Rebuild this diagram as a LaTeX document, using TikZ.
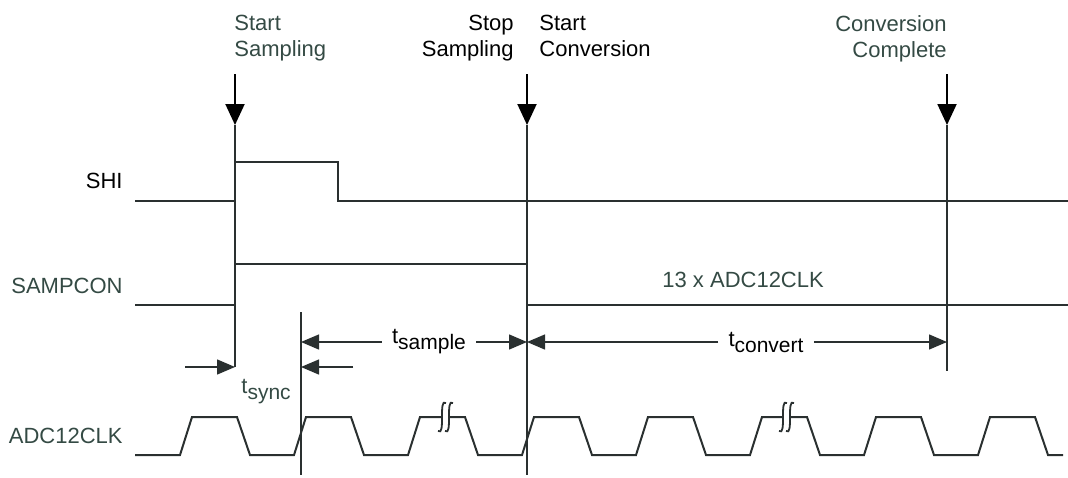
\documentclass[tikz,border=0pt]{standalone}
\usepackage{fontspec}
\setmainfont{Liberation Sans}
\usetikzlibrary{arrows.meta,positioning}
\definecolor{labelgreen}{RGB}{52,74,68}
\definecolor{wire}{RGB}{42,48,48}
\newcommand{\tsub}[2]{#1\raisebox{-3pt}{\fontsize{10.5}{12}\selectfont #2}}

\begin{document}
\begin{tikzpicture}[x=0.5pt, y=-0.5pt,
  every node/.style={font=\fontsize{11}{13}\selectfont, inner sep=0pt},
  event/.style={align=#1},
  sig/.style={draw=wire, line width=1pt, line join=miter},
  guide/.style={draw=wire, line width=0.6pt},
  evarrow/.style={-{Triangle[length=10.5pt,width=9.5pt]}, line width=1pt},
  dimarrow/.style={-{Triangle[length=9pt,width=7.5pt]}, line width=0.7pt, draw=wire, fill=wire},
  dimlabel/.style={inner xsep=5pt},
]
\useasboundingbox (0,0) rectangle (1068,477);

% event labels and their arrows
\node[event=left,  anchor=north west, text=labelgreen] (startS) at (234,15) {Start\\Sampling};
\node[event=right, anchor=north east] (stopS)  at (514,15) {Stop\\Sampling};
\node[event=left,  anchor=north west] (startC) at (539,15) {Start\\Conversion};
\node[event=right, anchor=north east, text=labelgreen] (doneC) at (947,15) {Conversion\\Complete};

\coordinate (ssTop) at (235,74);  \coordinate (ssTip) at (235,125); \coordinate (ssEnd) at (235,367);
\coordinate (scTop) at (527,74);  \coordinate (scTip) at (527,125); \coordinate (scEnd) at (527,475);
\coordinate (ccTop) at (947,74);  \coordinate (ccTip) at (947,125); \coordinate (ccEnd) at (947,371);
\coordinate (syTop) at (301,312); \coordinate (syEnd) at (301,475);

\draw[evarrow] (ssTop) -- (ssTip);
\draw[evarrow] (scTop) -- (scTip);
\draw[evarrow] (ccTop) -- (ccTip);

% guide lines
\draw[guide] (ssTip) -- (ssEnd);
\draw[guide] (scTip) -- (scEnd);
\draw[guide] (ccTip) -- (ccEnd);
\draw[guide] (syTop) -- (syEnd);

% signal names
\node[anchor=base east] (shiL)  at (123,188) {SHI};
\node[anchor=base east, text=labelgreen] (sampL) at (123,293) {SAMPCON};
\node[anchor=base east, text=labelgreen] (clkL)  at (123,443) {ADC12CLK};

% waveforms
\draw[sig] (135,201) -- (235,201) -- (235,162) -- (338,162) -- (338,201) -- (1068,201);
\draw[sig] (135,305) -- (235,305) -- (235,264) -- (527,264) -- (527,305) -- (1068,305);
\draw[sig] (135,455) \foreach \k in {0,...,7} {
    -- ({180+114*\k},455) -- ({192+114*\k},417) -- ({237+114*\k},417) -- ({250+114*\k},455)
  } -- (1063,455);
% breaks in the clock
\foreach \bx in {442,783} {
  \fill[white] (\bx-1,411) rectangle (\bx+8,423);
  \foreach \dx in {0,7}
    \draw[wire, line width=0.9pt] (\bx+\dx+4,403) .. controls (\bx+\dx-4,397) and (\bx+\dx+4,437) .. (\bx+\dx-4,431);
}

\node[anchor=base west, text=labelgreen] (clkCount) at (662,287) {13 x ADC12CLK};

% timing dimensions
\coordinate (syncL) at (185,367); \coordinate (syncR) at (353,367); \coordinate (syncTip) at (301,367);
\draw[dimarrow] (syncL) -- (ssEnd);
\draw[dimarrow] (syncR) -- (syncTip);
\node[anchor=base west, text=labelgreen] (tsync) at (241,393) {\tsub{t}{sync}};

\coordinate (sampTip) at (301,342); \coordinate (stopTip) at (527,342); \coordinate (doneTip) at (947,342);
\node[dimlabel] (tsample) at (429,342) {\tsub{t}{sample}};
\draw[dimarrow] (tsample) -- (sampTip);
\draw[dimarrow] (tsample) -- (stopTip);
\node[dimlabel] (tconvert) at (766,342) {\tsub{t}{convert}};
\draw[dimarrow] (tconvert) -- (stopTip);
\draw[dimarrow] (tconvert) -- (doneTip);
\end{tikzpicture}
\end{document}
